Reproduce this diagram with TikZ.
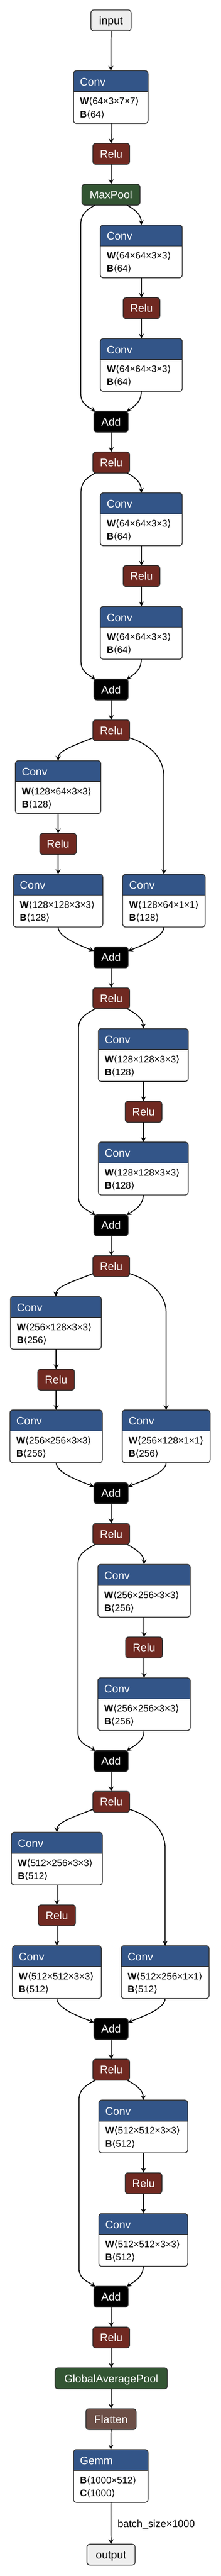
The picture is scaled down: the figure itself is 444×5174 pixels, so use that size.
\documentclass[tikz,border=0pt]{standalone}
\usepackage{fontspec}
\setmainfont{Liberation Sans}
\newfontfamily\brfont{DejaVu Sans}
\usetikzlibrary{arrows.meta,calc}
\definecolor{convblue}{RGB}{51,85,136}
\definecolor{relured}{RGB}{112,41,33}
\definecolor{poolgreen}{RGB}{51,85,51}
\definecolor{flatbrown}{RGB}{108,79,71}
\definecolor{iogray}{RGB}{238,238,238}
\definecolor{bordergray}{RGB}{51,51,51}
\newcommand\myLA{{\brfont ⟨}}
\newcommand\myRA{{\brfont ⟩}}
\newcommand\attrl[2]{\textbf{#1}\myLA #2\myRA}
\tikzset{
  edge/.style={line width=1.8pt, draw=black, -{Stealth[length=10pt,width=10pt,inset=4pt]}},
  border/.style={draw=bordergray, line width=1.6pt},
  opbox/.style={rounded corners=6pt, draw=bordergray, line width=1.6pt, inner sep=0pt, outer sep=0pt,
    font=\fontsize{22}{26}\selectfont, text height=15.8pt, text depth=0pt, align=center},
  titletext/.style={inner sep=0pt, outer sep=0pt, text=white, font=\fontsize{22}{26}\selectfont},
  attrtext/.style={inner sep=0pt, outer sep=0pt, text=black, font=\fontsize{19}{22}\selectfont},
  edgelabel/.style={inner sep=0pt, outer sep=0pt, text=black, font=\fontsize{20.5}{24}\selectfont},
}
% simple operator node: name, x1, y1, x2, y2, fill, text colour, text
\newcommand\opn[8]{%
  \node[opbox, fill=#6, text=#7, minimum width={#4-#2}, minimum height={#5-#3}] (#1)
    at ({(#2+#4)/2},{(#3+#5)/2}) {#8};}
% layer node with header: name, x1, y1, x2, y2, title, line 1, line 2
\newcommand\layern[8]{%
  \node[fill=white, draw=none, rounded corners=6pt, inner sep=0pt, outer sep=0pt,
    minimum width={#4-#2}, minimum height={#5-#3}] (#1) at ({(#2+#4)/2},{(#3+#5)/2}) {};
  \begin{scope}
    \clip[rounded corners=6pt] (#2,#3) rectangle (#4,#5);
    \fill[convblue] (#2,#3) rectangle (#4,#3+42);
  \end{scope}
  \draw[border] (#2,#3+42) -- (#4,#3+42);
  \draw[border, rounded corners=6pt] (#2,#3) rectangle (#4,#5);
  \node[titletext, anchor=base west] at (#2+13,#3+30) {#6};
  \node[attrtext, anchor=base west] at (#2+13,#3+68) {#7};
  \node[attrtext, anchor=base west] at (#2+13,#3+94) {#8};}
% identity residual block edges: source, conv1, relu, conv2, add, skip x offset, relu out
\newcommand\idblock[7]{%
  \draw[edge] ($(#1.south)+(32,0)$) .. controls +(18,10) and +(0,-20) .. (#2.north);
  \draw[edge] (#2) -- (#3);
  \draw[edge] (#3) -- (#4);
  \coordinate (ss) at ($(#1.south)+(#6,40)$);
  \coordinate (ee) at ($(#5.north)+(0,-36)$);
  \draw[edge] ($(#1.south)+(-32,0)$) .. controls +(-18,10) and +(0,-22) .. (ss) -- (ss |- ee)
     .. controls +(0,22) and +(-14,-10) .. ($(#5.north west)+(3,1)$);
  \draw[edge] (#4.south) .. controls +(0,22) and +(14,-10) .. ($(#5.north east)+(-3,1)$);
  \draw[edge] (#5) -- (#7);}
% downsample block edges: source relu, L conv1, L relu, L conv2, R conv, add, relu out
\newcommand\dsblock[7]{%
  \draw[edge] ($(#1.south west)+(0,-6)$) .. controls +(-40,16) and +(0,-20) .. (#2.north);
  \draw[edge] (#2) -- (#3);
  \draw[edge] (#3) -- (#4);
  \coordinate (rr) at ($(#1.south)+(0,72)$);
  \draw[edge] ($(#1.south east)+(0,-6)$) .. controls +(50,16) and +(0,-30) .. (#5.north |- rr) -- (#5.north);
  \draw[edge] (#4.south) .. controls +(0,20) and +(-30,-12) .. ($(#6.west)+(0,-13)$);
  \draw[edge] (#5.south) .. controls +(0,20) and +(30,-12) .. ($(#6.east)+(0,-13)$);
  \draw[edge] (#6) -- (#7);}
\begin{document}
\begin{tikzpicture}[x=1pt,y=-1pt]
\fill[white] (0,0) rectangle (444,5174);
\useasboundingbox (0,0) rectangle (444,5174);

\opn{in}{183}{20}{264}{62}{iogray}{black}{input}
\layern{conv0}{148}{142}{298}{248}{Conv}{\attrl{W}{64×3×7×7}}{\attrl{B}{64}}
\opn{relu0}{187}{288}{261}{330}{relured}{white}{Relu}
\opn{mp}{165}{370}{282}{412}{poolgreen}{white}{MaxPool}

% block A1
\layern{a1c1}{202}{452}{367}{558}{Conv}{\attrl{W}{64×64×3×3}}{\attrl{B}{64}}
\opn{a1r}{248}{598}{322}{640}{relured}{white}{Relu}
\layern{a1c2}{202}{680}{367}{786}{Conv}{\attrl{W}{64×64×3×3}}{\attrl{B}{64}}
\opn{a1add}{189}{826}{258}{868}{black}{white}{Add}
\opn{a1relu}{187}{908}{261}{950}{relured}{white}{Relu}
% block A2
\layern{a2c1}{202}{990}{367}{1096}{Conv}{\attrl{W}{64×64×3×3}}{\attrl{B}{64}}
\opn{a2r}{248}{1136}{322}{1178}{relured}{white}{Relu}
\layern{a2c2}{202}{1218}{367}{1324}{Conv}{\attrl{W}{64×64×3×3}}{\attrl{B}{64}}
\opn{a2add}{189}{1364}{258}{1406}{black}{white}{Add}
\opn{a2relu}{187}{1446}{261}{1488}{relured}{white}{Relu}
% block B1
\layern{b1c1}{31}{1528}{203}{1634}{Conv}{\attrl{W}{128×64×3×3}}{\attrl{B}{128}}
\opn{b1r}{80}{1674}{154}{1716}{relured}{white}{Relu}
\layern{b1c2}{27}{1756}{207}{1862}{Conv}{\attrl{W}{128×128×3×3}}{\attrl{B}{128}}
\layern{b1cd}{247}{1756}{413}{1862}{Conv}{\attrl{W}{128×64×1×1}}{\attrl{B}{128}}
\opn{b1add}{189}{1902}{258}{1944}{black}{white}{Add}
\opn{b1relu}{187}{1984}{261}{2026}{relured}{white}{Relu}
% block B2
\layern{b2c1}{198}{2066}{379}{2172}{Conv}{\attrl{W}{128×128×3×3}}{\attrl{B}{128}}
\opn{b2r}{252}{2212}{326}{2254}{relured}{white}{Relu}
\layern{b2c2}{198}{2294}{379}{2400}{Conv}{\attrl{W}{128×128×3×3}}{\attrl{B}{128}}
\opn{b2add}{189}{2440}{258}{2482}{black}{white}{Add}
\opn{b2relu}{187}{2522}{261}{2564}{relured}{white}{Relu}
% block C1
\layern{c1c1}{21}{2604}{204}{2710}{Conv}{\attrl{W}{256×128×3×3}}{\attrl{B}{256}}
\opn{c1r}{76}{2750}{150}{2792}{relured}{white}{Relu}
\layern{c1c2}{20}{2832}{206}{2938}{Conv}{\attrl{W}{256×256×3×3}}{\attrl{B}{256}}
\layern{c1cd}{246}{2832}{423}{2938}{Conv}{\attrl{W}{256×128×1×1}}{\attrl{B}{256}}
\opn{c1add}{189}{2978}{258}{3020}{black}{white}{Add}
\opn{c1relu}{187}{3060}{261}{3102}{relured}{white}{Relu}
% block C2
\layern{c2c1}{197}{3142}{383}{3248}{Conv}{\attrl{W}{256×256×3×3}}{\attrl{B}{256}}
\opn{c2r}{253}{3288}{327}{3330}{relured}{white}{Relu}
\layern{c2c2}{197}{3370}{383}{3476}{Conv}{\attrl{W}{256×256×3×3}}{\attrl{B}{256}}
\opn{c2add}{189}{3516}{258}{3558}{black}{white}{Add}
\opn{c2relu}{187}{3598}{261}{3640}{relured}{white}{Relu}
% block D1
\layern{d1c1}{23}{3680}{206}{3786}{Conv}{\attrl{W}{512×256×3×3}}{\attrl{B}{512}}
\opn{d1r}{77}{3826}{152}{3868}{relured}{white}{Relu}
\layern{d1c2}{25}{3908}{204}{4014}{Conv}{\attrl{W}{512×512×3×3}}{\attrl{B}{512}}
\layern{d1cd}{244}{3908}{421}{4014}{Conv}{\attrl{W}{512×256×1×1}}{\attrl{B}{512}}
\opn{d1add}{189}{4054}{258}{4096}{black}{white}{Add}
\opn{d1relu}{187}{4136}{261}{4178}{relured}{white}{Relu}
% block D2
\layern{d2c1}{199}{4218}{378}{4324}{Conv}{\attrl{W}{512×512×3×3}}{\attrl{B}{512}}
\opn{d2r}{252}{4364}{326}{4406}{relured}{white}{Relu}
\layern{d2c2}{199}{4446}{378}{4552}{Conv}{\attrl{W}{512×512×3×3}}{\attrl{B}{512}}
\opn{d2add}{189}{4592}{258}{4634}{black}{white}{Add}
\opn{d2relu}{187}{4674}{261}{4716}{relured}{white}{Relu}
% head
\opn{gap}{111}{4756}{337}{4798}{poolgreen}{white}{GlobalAveragePool}
\opn{fl}{173}{4838}{274}{4880}{flatbrown}{white}{Flatten}
\layern{gemm}{148}{4920}{298}{5026}{Gemm}{\attrl{B}{1000×512}}{\attrl{C}{1000}}
\opn{out}{175}{5110}{272}{5152}{iogray}{black}{output}

% edges
\draw[edge] (in) -- (conv0);
\draw[edge] (conv0) -- (relu0);
\draw[edge] (relu0) -- (mp);
\idblock{mp}{a1c1}{a1r}{a1c2}{a1add}{-61}{a1relu}
\idblock{a1relu}{a2c1}{a2r}{a2c2}{a2add}{-61}{a2relu}
\dsblock{a2relu}{b1c1}{b1r}{b1c2}{b1cd}{b1add}{b1relu}
\idblock{b1relu}{b2c1}{b2r}{b2c2}{b2add}{-66}{b2relu}
\dsblock{b2relu}{c1c1}{c1r}{c1c2}{c1cd}{c1add}{c1relu}
\idblock{c1relu}{c2c1}{c2r}{c2c2}{c2add}{-67}{c2relu}
\dsblock{c2relu}{d1c1}{d1r}{d1c2}{d1cd}{d1add}{d1relu}
\idblock{d1relu}{d2c1}{d2r}{d2c2}{d2add}{-65}{d2relu}
\draw[edge] (d2relu) -- (gap);
\draw[edge] (gap) -- (fl);
\draw[edge] (fl) -- (gemm);
\draw[edge] (gemm) -- node[edgelabel, pos=0.5, anchor=base west, xshift=13.5pt, yshift=-8pt] {batch\_size×1000} (out);
\end{tikzpicture}
\end{document}
